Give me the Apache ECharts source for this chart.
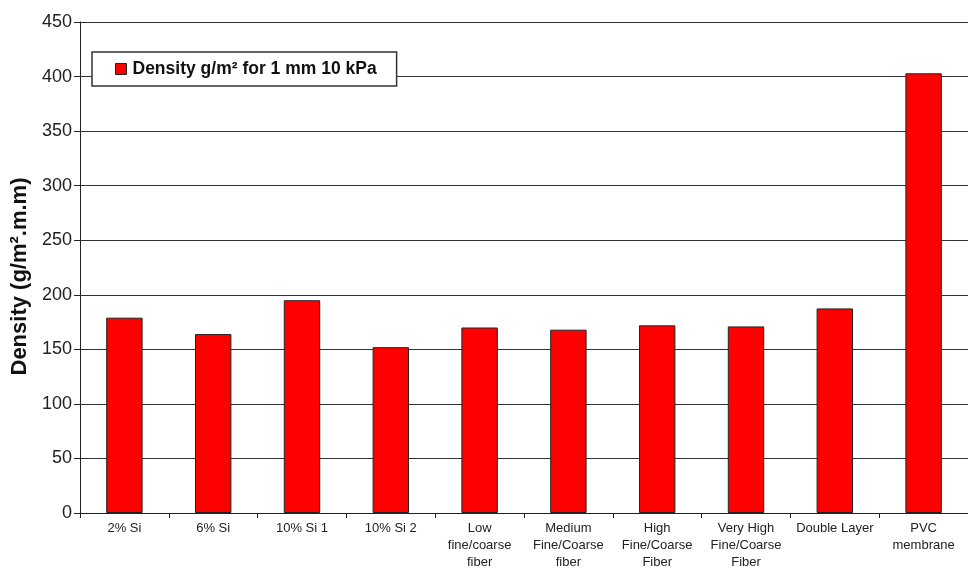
<!DOCTYPE html>
<html>
<head>
<meta charset="utf-8">
<script src="https://cdn.jsdelivr.net/npm/echarts@6/dist/echarts.min.js"></script>
<style>
  html, body { margin: 0; padding: 0; background: #fff; }
  #chart { width: 968px; height: 571px; }
</style>
</head>
<body>
<div id="chart"></div>
<script>
// Sample names along the x axis
const categories = [
  '2% Si',
  '6% Si',
  '10% Si 1',
  '10% Si 2',
  'Low\nfine/coarse\nfiber',
  'Medium\nFine/Coarse\nfiber',
  'High\nFine/Coarse\nFiber',
  'Very High\nFine/Coarse\nFiber',
  'Double Layer',
  'PVC\nmembrane'
];

// Density for 1 mm at 10 kPa
const seriesName = 'Density g/m² for 1 mm 10 kPa';
const densityValues = [179, 164, 195, 152, 170, 168, 172, 171, 187.5, 403];

// Value axis scale
const yMin = 0;
const yMax = 450;
const yStep = 50;

const chart = echarts.init(document.getElementById('chart'), null, { renderer: 'canvas' });

const font = 'Arial, "Liberation Sans", sans-serif';

chart.setOption({
  animation: false,
  backgroundColor: '#ffffff',
  textStyle: { fontFamily: font },
  // plot area runs slightly past the right edge of the canvas
  grid: { left: 80, top: 22, width: 899, height: 495, containLabel: false },
  legend: {
    data: [seriesName],
    left: 92,
    top: 52,
    orient: 'horizontal',
    backgroundColor: '#ffffff',
    borderColor: '#333333',
    borderWidth: 1.5,
    padding: [8, 20, 8, 23],
    itemWidth: 11,
    itemHeight: 11,
    itemGap: 6,
    icon: 'rect',
    itemStyle: { borderColor: '#222', borderWidth: 1 },
    textStyle: { fontFamily: font, fontWeight: 'bold', fontSize: 17.5, color: '#111', padding: [0, 0, 0, 1] }
  },
  xAxis: {
    type: 'category',
    data: categories,
    boundaryGap: true,
    axisLine: { show: true, lineStyle: { color: '#222', width: 1 } },
    axisTick: { show: true, alignWithLabel: false, length: 5, lineStyle: { color: '#222' } },
    axisLabel: {
      interval: 0,
      fontFamily: font,
      fontSize: 13,
      lineHeight: 17,
      color: '#222',
      margin: 7
    },
    splitLine: { show: false }
  },
  yAxis: {
    type: 'value',
    min: yMin,
    max: yMax,
    interval: yStep,
    name: 'Density (g/m².m.m)',
    nameLocation: 'middle',
    nameGap: 49,
    nameTextStyle: { fontFamily: font, fontWeight: 'bold', fontSize: 22, color: '#111', padding: [0, 18, 0, 0] },
    axisLine: { show: true, lineStyle: { color: '#222', width: 1 } },
    axisTick: { show: true, length: 6, lineStyle: { color: '#222' } },
    axisLabel: { fontFamily: font, fontSize: 18, color: '#222', margin: 8 },
    splitLine: { show: true, lineStyle: { color: '#333', width: 1 } }
  },
  series: [{
    name: seriesName,
    type: 'bar',
    data: densityValues,
    barWidth: '41%',
    itemStyle: { color: '#ff0000', borderColor: '#222', borderWidth: 1 }
  }]
});
</script>
</body>
</html>
